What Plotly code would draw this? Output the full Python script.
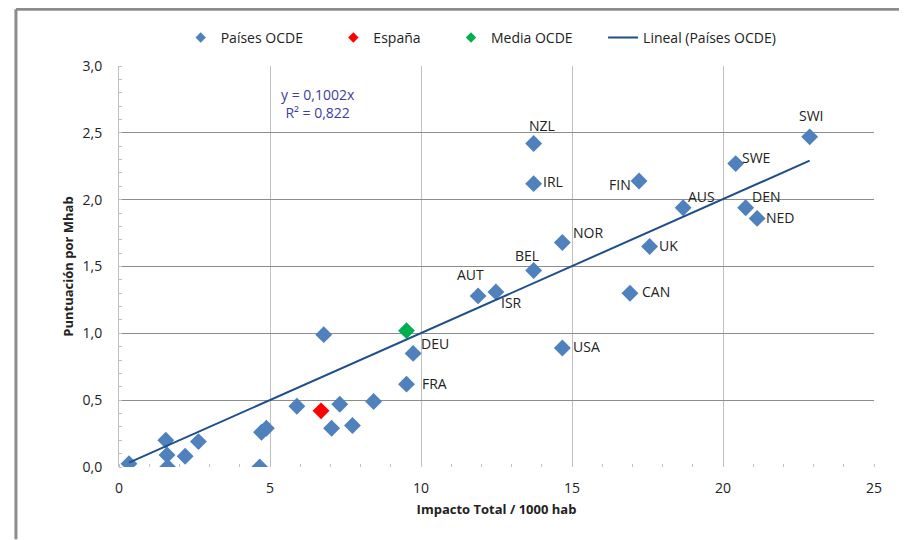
import plotly.graph_objects as go

# ---- data ----
ocde_x = [0.33, 1.55, 1.59, 1.61, 2.19, 2.63, 4.66, 4.72, 4.88, 5.89, 6.78, 7.04, 7.31, 7.73, 8.43,
          9.52, 9.74, 11.89, 12.48, 13.73, 13.73, 13.73, 14.68, 14.68, 16.92, 17.22, 17.57, 18.68,
          20.42, 20.75, 21.13, 22.87]
ocde_y = [0.025, 0.20, 0.09, 0.0, 0.08, 0.19, 0.0, 0.26, 0.29, 0.455, 0.99, 0.29, 0.47, 0.31, 0.49,
          0.62, 0.85, 1.28, 1.31, 1.47, 2.42, 2.12, 1.68, 0.89, 1.30, 2.14, 1.65, 1.94,
          2.27, 1.94, 1.86, 2.47]
ocde_lab = ["", "", "", "", "", "", "", "", "", "", "", "", "", "", "",
            "FRA", "DEU", "AUT", "ISR", "BEL", "NZL", "IRL", "NOR", "USA", "CAN", "FIN", "UK", "AUS",
            "SWE", "DEN", "NED", "SWI"]

espana_x = [6.69]
espana_y = [0.42]
media_x = [9.52]
media_y = [1.02]

slope = 0.1002
r2 = 0.822

x_ticks = [0, 5, 10, 15, 20, 25]
y_ticks = [0.0, 0.5, 1.0, 1.5, 2.0, 2.5, 3.0]

# label offsets (pixels, label centre relative to its marker; +x right, +y up)
label_offset = {
    "FRA": (28, 1), "DEU": (22, 10), "AUT": (-8, 21), "ISR": (16, -11), "BEL": (-7, 15),
    "NZL": (8, 18), "IRL": (19, 2), "NOR": (26, 10), "USA": (24, 2), "CAN": (26, 2),
    "FIN": (-19, -4), "UK": (19, 1), "AUS": (18, 11), "SWE": (20, 6), "DEN": (20, 11),
    "NED": (23, 1), "SWI": (2, 21),
}

# ---- figure ----
FONT = "'Open Sans', Lato, sans-serif"
BLUE = "#4F81BD"
RED = "#FF0000"
GREEN = "#00B050"
LINE = "#1F4E8C"
TXT = "#222222"

xmin, xmax = min(ocde_x), max(ocde_x)
trend_x = [xmin, xmax]
trend_y = [slope * v for v in trend_x]

fig = go.Figure()
fig.add_trace(go.Scatter(x=ocde_x, y=ocde_y, mode="markers", name="Países OCDE", showlegend=False,
                         marker=dict(symbol="diamond", size=13, color=BLUE)))
fig.add_trace(go.Scatter(x=espana_x, y=espana_y, mode="markers", name="España", showlegend=False,
                         marker=dict(symbol="diamond", size=13, color=RED)))
fig.add_trace(go.Scatter(x=media_x, y=media_y, mode="markers", name="Media OCDE", showlegend=False,
                         marker=dict(symbol="diamond", size=13, color=GREEN)))
fig.add_trace(go.Scatter(x=trend_x, y=trend_y, mode="lines", name="Lineal (Países OCDE)",
                         showlegend=False, line=dict(color=LINE, width=2)))

# legend entries (small symbols like the original)
pad = "\u00a0" * 7
for nm, col in [("Países OCDE", BLUE), ("España", RED), ("Media OCDE", GREEN)]:
    fig.add_trace(go.Scatter(x=[None], y=[None], mode="markers", name=nm + pad,
                             marker=dict(symbol="diamond", size=8, color=col)))
fig.add_trace(go.Scatter(x=[None], y=[None], mode="lines", name="Lineal (Países OCDE)",
                         line=dict(color=LINE, width=2)))

# country labels
for x, y, lab in zip(ocde_x, ocde_y, ocde_lab):
    if not lab:
        continue
    dx, dy = label_offset[lab]
    fig.add_annotation(x=x, y=y, xref="x", yref="y", text=lab, showarrow=False,
                       xanchor="center", yanchor="middle", xshift=dx, yshift=dy,
                       font=dict(family=FONT, size=14, color=TXT))

fig.add_annotation(
    x=6.58, y=2.72, xref="x", yref="y", showarrow=False,
    text=f"y = {slope:.4f}x".replace(".", ",") + "<br>R² = " + f"{r2:.3f}".replace(".", ","),
    font=dict(family=FONT, size=14, color="#3C3CA8"), align="center",
)

# outer chart frame (top and left edges visible)
fig.add_shape(type="line", xref="paper", yref="paper",
              x0=-0.1365, y0=1.1414, x1=1.05, y1=1.1414,
              line=dict(color="#8c8c8c", width=3), layer="above")
fig.add_shape(type="line", xref="paper", yref="paper",
              x0=-0.1365, y0=-0.18, x1=-0.1365, y1=1.1414,
              line=dict(color="#8c8c8c", width=3), layer="above")

fig.update_layout(
    width=907, height=540,
    margin=dict(l=111, r=41, t=58, b=81),
    paper_bgcolor="white", plot_bgcolor="white",
    separators=", ",
    font=dict(family=FONT, size=13, color=TXT),
    legend=dict(orientation="h", x=0.0817, xanchor="left", y=1.07, yanchor="middle",
                font=dict(family=FONT, size=14, color=TXT),
                itemwidth=30, bgcolor="rgba(0,0,0,0)"),
    showlegend=True,
)
fig.update_xaxes(
    range=[0, 25], tickvals=x_ticks, ticks="", showline=False, zeroline=False,
    showgrid=True, gridcolor="#c0c0c0", gridwidth=1,
    minor=dict(dtick=1, tick0=0, ticks="inside", ticklen=3, tickcolor="#c0c0c0", showgrid=False),
    tickfont=dict(family=FONT, size=14, color=TXT),
    ticklabelstandoff=11,
    title=dict(text="<b>Impacto Total / 1000 hab</b>", font=dict(family=FONT, size=13, color=TXT),
               standoff=8),
)
fig.update_yaxes(
    range=[0, 3], tickvals=y_ticks, tickformat=".1f", ticks="",
    showline=True, linecolor="#c0c0c0", linewidth=1,
    zeroline=True, zerolinecolor="white", zerolinewidth=1,
    showgrid=True, gridcolor="#8c8c8c", gridwidth=1,
    minor=dict(dtick=0.1, tick0=0, ticks="inside", ticklen=3, tickcolor="#c0c0c0", showgrid=False),
    tickfont=dict(family=FONT, size=14, color=TXT),
    ticklabelstandoff=13,
    title=dict(text="<b>Puntuación por Mhab</b>", font=dict(family=FONT, size=13, color=TXT),
               standoff=6),
)

fig.write_html("out.html")
